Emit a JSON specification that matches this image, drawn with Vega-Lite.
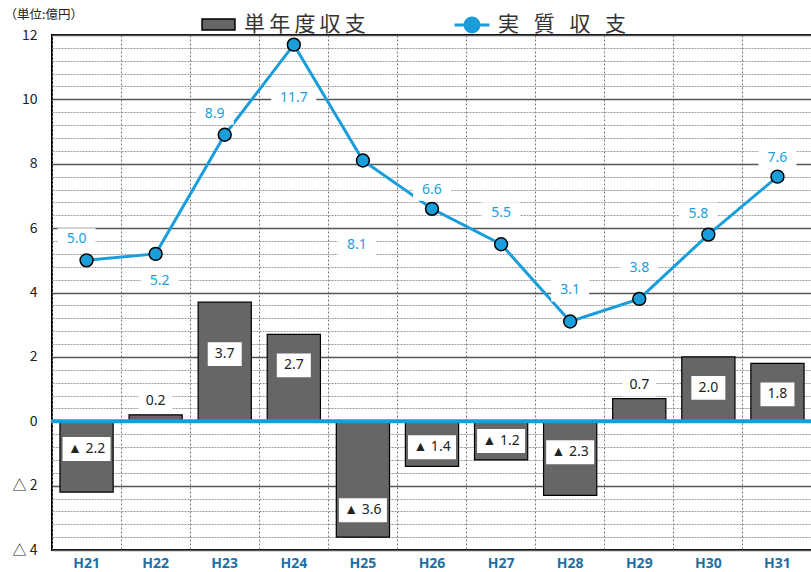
{
  "$schema": "https://vega.github.io/schema/vega-lite/v6.json",
  "width": 760,
  "height": 515,
  "autosize": "none",
  "padding": {"left": 52, "top": 35, "right": 0, "bottom": 22},
  "config": {
    "view": {"stroke": "black", "strokeWidth": 2},
    "axis": {"labelFont": "Noto Sans", "titleFont": "Noto Sans CJK JP"},
    "text": {"font": "Noto Sans"},
    "legend": {"labelFont": "Noto Sans CJK JP"}
  },
  "data": {
    "values": [
      {"year": "H21", "single": -2.2, "real": 5.0},
      {"year": "H22", "single": 0.2, "real": 5.2},
      {"year": "H23", "single": 3.7, "real": 8.9},
      {"year": "H24", "single": 2.7, "real": 11.7},
      {"year": "H25", "single": -3.6, "real": 8.1},
      {"year": "H26", "single": -1.4, "real": 6.6},
      {"year": "H27", "single": -1.2, "real": 5.5},
      {"year": "H28", "single": -2.3, "real": 3.1},
      {"year": "H29", "single": 0.7, "real": 3.8},
      {"year": "H30", "single": 2.0, "real": 5.8},
      {"year": "H31", "single": 1.8, "real": 7.6}
    ]
  },
  "transform": [
    {"calculate": "datum.single < 0 ? '▲ ' + format(abs(datum.single), '.1f') : format(datum.single, '.1f')", "as": "barLabel"},
    {"calculate": "format(datum.real, '.1f')", "as": "realLabel"}
  ],
  "encoding": {
    "x": {
      "field": "year", "type": "nominal",
      "scale": {"paddingInner": 0, "paddingOuter": 0},
      "axis": {
        "orient": "bottom", "title": null, "bandPosition": 0,
        "grid": true, "gridDash": [2, 2], "gridColor": "#777", "gridWidth": 1,
        "ticks": false, "domain": false, "labelAngle": 0,
        "labelFontSize": 14, "labelFontWeight": "bold", "labelColor": "#1d6fa5", "labelPadding": 6
      }
    }
  },
  "resolve": {"axis": {"y": "independent"}},
  "layer": [
    {
      "encoding": {
        "y": {
          "field": "single", "type": "quantitative",
          "scale": {"domain": [-4, 12], "nice": false, "zero": false},
          "axis": {
            "orient": "left", "offset": 0, "title": null, "labels": false, "ticks": false, "domain": false,
            "grid": true, "gridDash": [2, 1], "gridColor": "#9a9a9a", "gridWidth": 1,
            "values": [-3.6, -3.2, -2.8, -2.4, -1.6, -1.2, -0.8, -0.4, 0.4, 0.8, 1.2, 1.6, 2.4, 2.8, 3.2, 3.6, 4.4, 4.8, 5.2, 5.6, 6.4, 6.8, 7.2, 7.6, 8.4, 8.8, 9.2, 9.6, 10.4, 10.8, 11.2, 11.6]
          }
        }
      },
      "layer": [
        {
          "mark": {"type": "bar", "width": {"band": 0.77}, "stroke": "black", "strokeWidth": 1.2, "opacity": 1},
          "encoding": {
            "y2": {"datum": 0},
            "fill": {
              "datum": "単\u2009年\u2009度\u2009収\u2009支",
              "scale": {"range": ["#666666"]},
              "legend": {
                "title": null, "orient": "none", "legendX": 148, "legendY": -29, "padding": 0,
                "labelFontSize": 21, "labelColor": "#333", "labelOffset": 7,
                "symbolType": "M-0.94,-0.31H0.94V0.31H-0.94Z", "symbolSize": 1225,
                "symbolStrokeColor": "black", "symbolStrokeWidth": 1.5
              }
            }
          }
        },
        {
          "mark": {"type": "tick", "orient": "horizontal", "color": "#1a9ddb", "thickness": 4, "size": 71, "opacity": 1},
          "encoding": {
            "y": {
              "datum": 0, "type": "quantitative",
              "scale": {"domain": [-4, 12], "nice": false, "zero": false},
              "axis": {
                "orient": "left", "offset": 0, "title": null, "labels": false, "ticks": false, "domain": false,
                "grid": true, "gridDash": [2, 1], "gridColor": "#9a9a9a", "gridWidth": 1,
                "values": [-3.6, -3.2, -2.8, -2.4, -1.6, -1.2, -0.8, -0.4, 0.4, 0.8, 1.2, 1.6, 2.4, 2.8, 3.2, 3.6, 4.4, 4.8, 5.2, 5.6, 6.4, 6.8, 7.2, 7.6, 8.4, 8.8, 9.2, 9.6, 10.4, 10.8, 11.2, 11.6]
              }
            }
          }
        },
        {
          "transform": [{"filter": {"field": "year", "oneOf": ["H23"]}}],
          "layer": [
            {"mark": {"type": "point", "shape": "M-1,-0.7H1V0.7H-1Z", "size": 1156, "filled": true, "fill": "white", "strokeWidth": 0, "opacity": 1, "yOffset": 52}},
            {"mark": {"type": "text", "yOffset": 52, "fontSize": 14, "color": "#222"}, "encoding": {"text": {"field": "barLabel"}}}
          ]
        },
        {
          "transform": [{"filter": {"field": "year", "oneOf": ["H24", "H30", "H31"]}}],
          "layer": [
            {"mark": {"type": "point", "shape": "M-1,-0.7H1V0.7H-1Z", "size": 1156, "filled": true, "fill": "white", "strokeWidth": 0, "opacity": 1, "yOffset": 31}},
            {"mark": {"type": "text", "yOffset": 31, "fontSize": 14, "color": "#222"}, "encoding": {"text": {"field": "barLabel"}}}
          ]
        },
        {
          "transform": [{"filter": {"field": "year", "oneOf": ["H22", "H29"]}}],
          "layer": [
            {"mark": {"type": "point", "shape": "M-1,-0.7H1V0.7H-1Z", "size": 1156, "filled": true, "fill": "white", "strokeWidth": 0, "opacity": 1, "yOffset": -14}},
            {"mark": {"type": "text", "yOffset": -14, "fontSize": 14, "color": "#222"}, "encoding": {"text": {"field": "barLabel"}}}
          ]
        },
        {
          "transform": [{"filter": {"field": "year", "oneOf": ["H21", "H28"]}}],
          "layer": [
            {"mark": {"type": "point", "shape": "M-1,-0.5H1V0.5H-1Z", "size": 2304, "filled": true, "fill": "white", "strokeWidth": 0, "opacity": 1, "yOffset": -43}},
            {"mark": {"type": "text", "yOffset": -43, "fontSize": 14, "color": "#222"}, "encoding": {"text": {"field": "barLabel"}}}
          ]
        },
        {
          "transform": [{"filter": {"field": "year", "oneOf": ["H25"]}}],
          "layer": [
            {"mark": {"type": "point", "shape": "M-1,-0.5H1V0.5H-1Z", "size": 2304, "filled": true, "fill": "white", "strokeWidth": 0, "opacity": 1, "yOffset": -27}},
            {"mark": {"type": "text", "yOffset": -27, "fontSize": 14, "color": "#222"}, "encoding": {"text": {"field": "barLabel"}}}
          ]
        },
        {
          "transform": [{"filter": {"field": "year", "oneOf": ["H26", "H27"]}}],
          "layer": [
            {"mark": {"type": "point", "shape": "M-1,-0.5H1V0.5H-1Z", "size": 2304, "filled": true, "fill": "white", "strokeWidth": 0, "opacity": 1, "yOffset": -19}},
            {"mark": {"type": "text", "yOffset": -19, "fontSize": 14, "color": "#222"}, "encoding": {"text": {"field": "barLabel"}}}
          ]
        }
      ]
    },
    {
      "encoding": {
        "y": {
          "field": "real", "type": "quantitative",
          "scale": {"domain": [-4, 12], "nice": false, "zero": false},
          "axis": {
            "orient": "left", "offset": 0, "values": [-4, -2, 0, 2, 4, 6, 8, 10, 12],
            "labelExpr": "datum.value < 0 ? '△ ' + abs(datum.value) : datum.value",
            "labelFont": "Noto Sans CJK JP",
            "labelFontSize": 14, "labelColor": "#222", "labelPadding": 15,
            "ticks": false, "domain": false,
            "grid": true, "gridColor": "#555", "gridWidth": 1.5,
            "title": "（単位:億円）", "titleAngle": 0, "titleAlign": "left", "titleBaseline": "middle",
            "titleX": -48, "titleY": -21, "titleFontWeight": "normal", "titleFontSize": 12.5, "titleColor": "#222"
          }
        }
      },
      "layer": [
        {
          "mark": {"type": "line", "strokeWidth": 3, "color": "#1a9ddb"}
        },
        {
          "mark": {"type": "point", "filled": true, "size": 165, "stroke": "black", "strokeWidth": 1.5, "opacity": 1},
          "encoding": {
            "color": {
              "datum": "実\u2002\u2009質\u2002\u2009収\u2002\u2009支",
              "scale": {"range": ["#1a9ddb"]},
              "legend": {
                "title": null, "orient": "none", "legendX": 401, "legendY": -29, "padding": 0,
                "labelFontSize": 21, "labelColor": "#333", "labelOffset": 7,
                "symbolType": "M-1,0H-0.4M0.4,0H1M0.4,0A0.4,0.4,0,1,1,-0.4,0A0.4,0.4,0,1,1,0.4,0Z", "symbolSize": 1225,
                "symbolStrokeWidth": 3, "symbolStrokeColor": "#1a9ddb",
                "encode": {"symbols": {"update": {"stroke": {"value": "#1a9ddb"}, "strokeWidth": {"value": 3}}}}
              }
            }
          }
        },
        {
          "transform": [{"filter": {"field": "year", "oneOf": ["H21", "H23", "H30"]}}],
          "layer": [
            {"mark": {"type": "point", "shape": "M-1,-0.58H1V0.58H-1Z", "size": 1444, "filled": true, "fill": "white", "strokeWidth": 0, "opacity": 1, "xOffset": -10, "yOffset": -21}},
            {"mark": {"type": "text", "xOffset": -10, "yOffset": -21, "fontSize": 14, "color": "#1a9ddb"}, "encoding": {"text": {"field": "realLabel"}}}
          ]
        },
        {
          "transform": [{"filter": {"field": "year", "oneOf": ["H26", "H31"]}}],
          "layer": [
            {"mark": {"type": "point", "shape": "M-1,-0.58H1V0.58H-1Z", "size": 1444, "filled": true, "fill": "white", "strokeWidth": 0, "opacity": 1, "yOffset": -19}},
            {"mark": {"type": "text", "yOffset": -19, "fontSize": 14, "color": "#1a9ddb"}, "encoding": {"text": {"field": "realLabel"}}}
          ]
        },
        {
          "transform": [{"filter": {"field": "year", "oneOf": ["H27", "H28", "H29"]}}],
          "layer": [
            {"mark": {"type": "point", "shape": "M-1,-0.58H1V0.58H-1Z", "size": 1444, "filled": true, "fill": "white", "strokeWidth": 0, "opacity": 1, "yOffset": -31}},
            {"mark": {"type": "text", "yOffset": -31, "fontSize": 14, "color": "#1a9ddb"}, "encoding": {"text": {"field": "realLabel"}}}
          ]
        },
        {
          "transform": [{"filter": {"field": "year", "oneOf": ["H22"]}}],
          "layer": [
            {"mark": {"type": "point", "shape": "M-1,-0.58H1V0.58H-1Z", "size": 1444, "filled": true, "fill": "white", "strokeWidth": 0, "opacity": 1, "xOffset": 4, "yOffset": 27}},
            {"mark": {"type": "text", "xOffset": 4, "yOffset": 27, "fontSize": 14, "color": "#1a9ddb"}, "encoding": {"text": {"field": "realLabel"}}}
          ]
        },
        {
          "transform": [{"filter": {"field": "year", "oneOf": ["H24"]}}],
          "layer": [
            {"mark": {"type": "point", "shape": "M-1,-0.5H1V0.5H-1Z", "size": 2025, "filled": true, "fill": "white", "strokeWidth": 0, "opacity": 1, "yOffset": 53}},
            {"mark": {"type": "text", "yOffset": 53, "fontSize": 14, "color": "#1a9ddb"}, "encoding": {"text": {"field": "realLabel"}}}
          ]
        },
        {
          "transform": [{"filter": {"field": "year", "oneOf": ["H25"]}}],
          "layer": [
            {"mark": {"type": "point", "shape": "M-1,-0.58H1V0.58H-1Z", "size": 1444, "filled": true, "fill": "white", "strokeWidth": 0, "opacity": 1, "xOffset": -6, "yOffset": 84}},
            {"mark": {"type": "text", "xOffset": -6, "yOffset": 84, "fontSize": 14, "color": "#1a9ddb"}, "encoding": {"text": {"field": "realLabel"}}}
          ]
        }
      ]
    }
  ]
}
